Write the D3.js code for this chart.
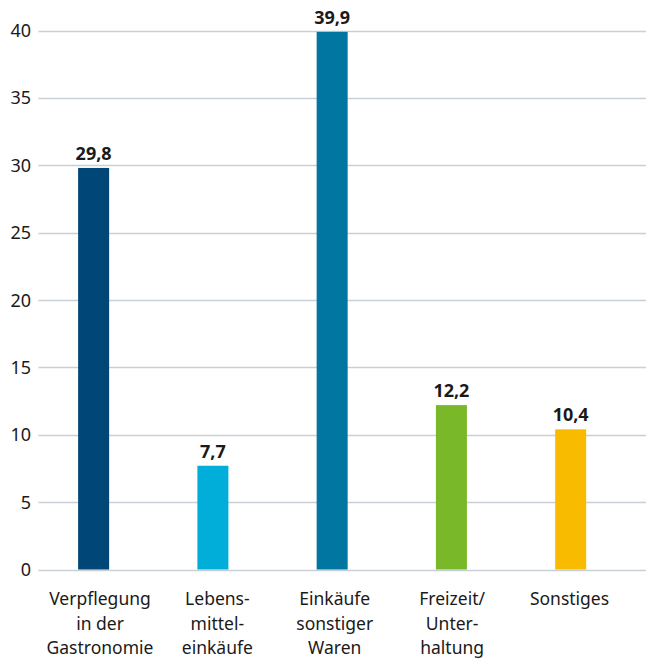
<!DOCTYPE html>
<html>
<head>
<meta charset="utf-8">
<script src="https://cdn.jsdelivr.net/npm/d3@7"></script>
<style>
  body { margin: 0; background: #fff; }
  svg text { font-family: "Noto Sans", sans-serif; fill: #1a1a1a; }
</style>
</head>
<body>
<div id="chart"></div>
<script>
// data
var categories = [
    ["Verpflegung", "in der", "Gastronomie"],
    ["Lebens-", "mittel-", "einkäufe"],
    ["Einkäufe", "sonstiger", "Waren"],
    ["Freizeit/", "Unter-", "haltung"],
    ["Sonstiges"]
];
var values = [29.8, 7.7, 39.9, 12.2, 10.4];
var valueLabels = ["29,8", "7,7", "39,9", "12,2", "10,4"];
var colors = ["#004676", "#00aed9", "#0076a0", "#79b829", "#f9bb00"];
var yTicks = [0, 5, 10, 15, 20, 25, 30, 35, 40];

var svgWidth = 646;
var svgHeight = 659;

var svg = d3.select("#chart")
    .append("svg")
    .attr("width", svgWidth)
    .attr("height", svgHeight);

var x = d3.scaleBand()
    .domain(d3.range(values.length))
    .range([34, 630.3])
    .paddingInner(0.74)
    .paddingOuter(0.37);

// category labels sit on a slightly narrower spacing than the bars
var xLabel = d3.scalePoint()
    .domain(d3.range(values.length))
    .range([100, 569.5]);

var y = d3.scaleLinear()
    .domain([0, 40])
    .range([569.5, 30.5]);

// gridlines
svg.append("g")
    .selectAll("line")
    .data(yTicks)
    .enter()
    .append("line")
    .attr("x1", 38.5)
    .attr("x2", svgWidth)
    .attr("y1", d => Math.round(y(d)) + 0.5)
    .attr("y2", d => Math.round(y(d)) + 0.5)
    .attr("stroke", "#c9cfd6")
    .attr("stroke-width", 1.5);

// y labels
svg.append("g")
    .selectAll("text")
    .data(yTicks)
    .enter()
    .append("text")
    .attr("x", 31)
    .attr("y", d => y(d) + 6.5)
    .attr("text-anchor", "end")
    .attr("font-size", "18px")
    .text(d => d);

// bars
svg.append("g")
    .selectAll("rect")
    .data(values)
    .enter()
    .append("rect")
    .attr("x", (d, i) => x(i))
    .attr("width", x.bandwidth())
    .attr("y", d => y(d))
    .attr("height", d => y(0) - y(d))
    .attr("fill", (d, i) => colors[i]);

// value labels
svg.append("g")
    .selectAll("text")
    .data(values)
    .enter()
    .append("text")
    .attr("x", (d, i) => x(i) + x.bandwidth() / 2)
    .attr("y", d => y(d) - 8)
    .attr("text-anchor", "middle")
    .attr("font-size", "18px")
    .attr("font-weight", "bold")
    .text((d, i) => valueLabels[i]);

// category labels
var catGroups = svg.append("g")
    .selectAll("text")
    .data(categories)
    .enter()
    .append("text")
    .attr("text-anchor", "middle")
    .attr("font-size", "17.5px");

catGroups.selectAll("tspan")
    .data((d, i) => d.map(t => ({ t: t, i: i })))
    .enter()
    .append("tspan")
    .attr("x", d => xLabel(d.i))
    .attr("y", (d, j) => 605 + j * 24.5)
    .text(d => d.t);
</script>
</body>
</html>
